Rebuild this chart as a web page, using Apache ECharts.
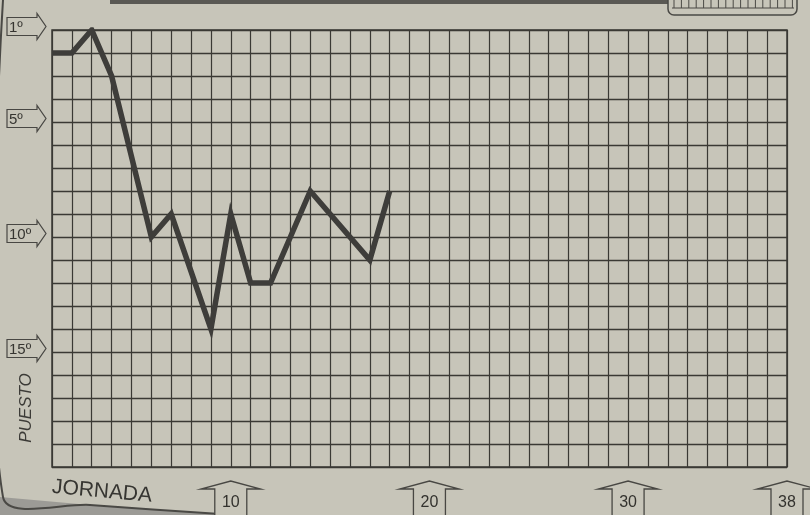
<!DOCTYPE html>
<html>
<head>
<meta charset="utf-8">
<script src="https://cdn.jsdelivr.net/npm/echarts@6/dist/echarts.min.js"></script>
<style>
html,body{margin:0;padding:0;background:#c8c6ba;}
#grafico{width:810px;height:515px;}
</style>
</head>
<body>
<div id="grafico"></div>
<script>
// datos: puesto por jornada (null = sin vértice dibujado, la línea sigue recta)
var jornadas = [1,2,3,4,5,6,7,8,9,10,11,12,13,14,15,16,17,18];
var puestos  = [2,2,1,3,null,10,9,null,14,9,12,12,null,8,null,null,11,8];
var marcasPuesto  = [1,5,10,15];
var marcasJornada = [10,20,30,38];
var totalJornadas = 38;
var totalPuestos  = 20;

var tinta = '#3a3934';
var papel = '#c7c5b9';

var linea = jornadas.map(function(j,i){ return [j, puestos[i]]; });

// flechas de la izquierda (1º, 5º ...)
function flechaPuesto(params, api){
    var p = api.coord([1, api.value(1)]);
    var x = p[0], c = p[1]-3.5;
    return {type:'group', children:[
        {type:'polygon', shape:{points:[[x-45,c-9],[x-15,c-9],[x-15,c-13],[x-6,c],[x-15,c+13],[x-15,c+9],[x-45,c+9]]},
         style:{fill:papel, stroke:'#484743', lineWidth:1.2}},
        {type:'text', style:{text: api.value(1)+'º', x:x-43, y:c+1, verticalAlign:'middle',
         font:'15px "Liberation Sans"', fill:'#363531'}}
    ]};
}

// flechas de abajo (10, 20, 30, 38)
function flechaJornada(params, api){
    var p = api.coord([api.value(0), totalPuestos]);
    var x = p[0], y = p[1];
    var punta = y+14, base = y+22;
    return {type:'group', children:[
        {type:'polygon', shape:{points:[[x-16,y+60],[x-16,base],[x-30,base],[x,punta],[x+30,base],[x+16,base],[x+16,y+60]]},
         style:{fill:papel, stroke:'#484743', lineWidth:1.3}},
        {type:'text', style:{text: String(api.value(0)), x:x, y:y+36, align:'center', verticalAlign:'middle',
         font:'16px "Liberation Sans"', fill:'#33322e'}}
    ]};
}

var rayas = [];
for (var k = 0; k < 17; k++) {
    rayas.push({type:'line', shape:{x1:674+k*7.4, y1:0, x2:674+k*7.4, y2:8}, style:{stroke:'#4a4945', lineWidth:1}});
}

var grafico = echarts.init(document.getElementById('grafico'));
var option = {
    backgroundColor: papel,
    animation: false,
    grid: {left:52, right:23, top:30, bottom:48, show:true, borderColor:tinta, borderWidth:1.5},
    xAxis: {
        type:'value', min:1, max:totalJornadas, interval:1,
        axisLine:{show:false}, axisTick:{show:false}, axisLabel:{show:false},
        splitLine:{show:true, lineStyle:{color:tinta, width:1.2}}
    },
    yAxis: {
        type:'value', inverse:true, min:1, max:totalPuestos, interval:1,
        axisLine:{show:false}, axisTick:{show:false}, axisLabel:{show:false},
        splitLine:{show:true, lineStyle:{color:tinta, width:1.4}}
    },
    series: [
        {
            type:'line', data:linea, connectNulls:true, showSymbol:false, symbol:'none',
            lineStyle:{color:'#3e3d3a', width:5.5, join:'miter'}, z:5
        },
        {
            type:'custom', renderItem:flechaPuesto, clip:false, silent:true,
            data: marcasPuesto.map(function(p){ return [1,p]; })
        },
        {
            type:'custom', renderItem:flechaJornada, clip:false, silent:true,
            data: marcasJornada.map(function(j){ return [j,totalPuestos]; })
        }
    ],
    graphic: [
        // zona oscura abajo a la izquierda
        {type:'polygon', shape:{points:[[0,497],[90,505],[235,515],[0,515]]}, style:{fill:'#9c9b96'}},
        {type:'polyline', shape:{points:[[3,0],[3,497],[90,505],[235,515]], smooth:0.3}, style:{stroke:'#4a4945', lineWidth:2, fill:null}},
        // banda superior y recuadro rayado
        {type:'rect', shape:{x:110, y:0, width:560, height:4}, style:{fill:'#5a5954'}},
        {type:'rect', shape:{x:668, y:-6, width:129, height:21, r:6}, style:{fill:papel, stroke:'#4a4945', lineWidth:1.5}},
        {type:'line', shape:{x1:672, y1:8, x2:794, y2:8}, style:{stroke:'#4a4945', lineWidth:1.2}},
        {type:'group', children:rayas},
        {type:'text', x:26, y:408, rotation:Math.PI/2,
         style:{text:'PUESTO', align:'center', verticalAlign:'middle', font:'italic 17px "Liberation Sans"', fill:'#3c3b37'}},
        {type:'text', x:52, y:487, rotation:-0.09,
         style:{text:'JORNADA', align:'left', verticalAlign:'middle', font:'21px "Liberation Sans"', fill:'#363531'}}
    ]
};
grafico.setOption(option);
</script>
</body>
</html>
